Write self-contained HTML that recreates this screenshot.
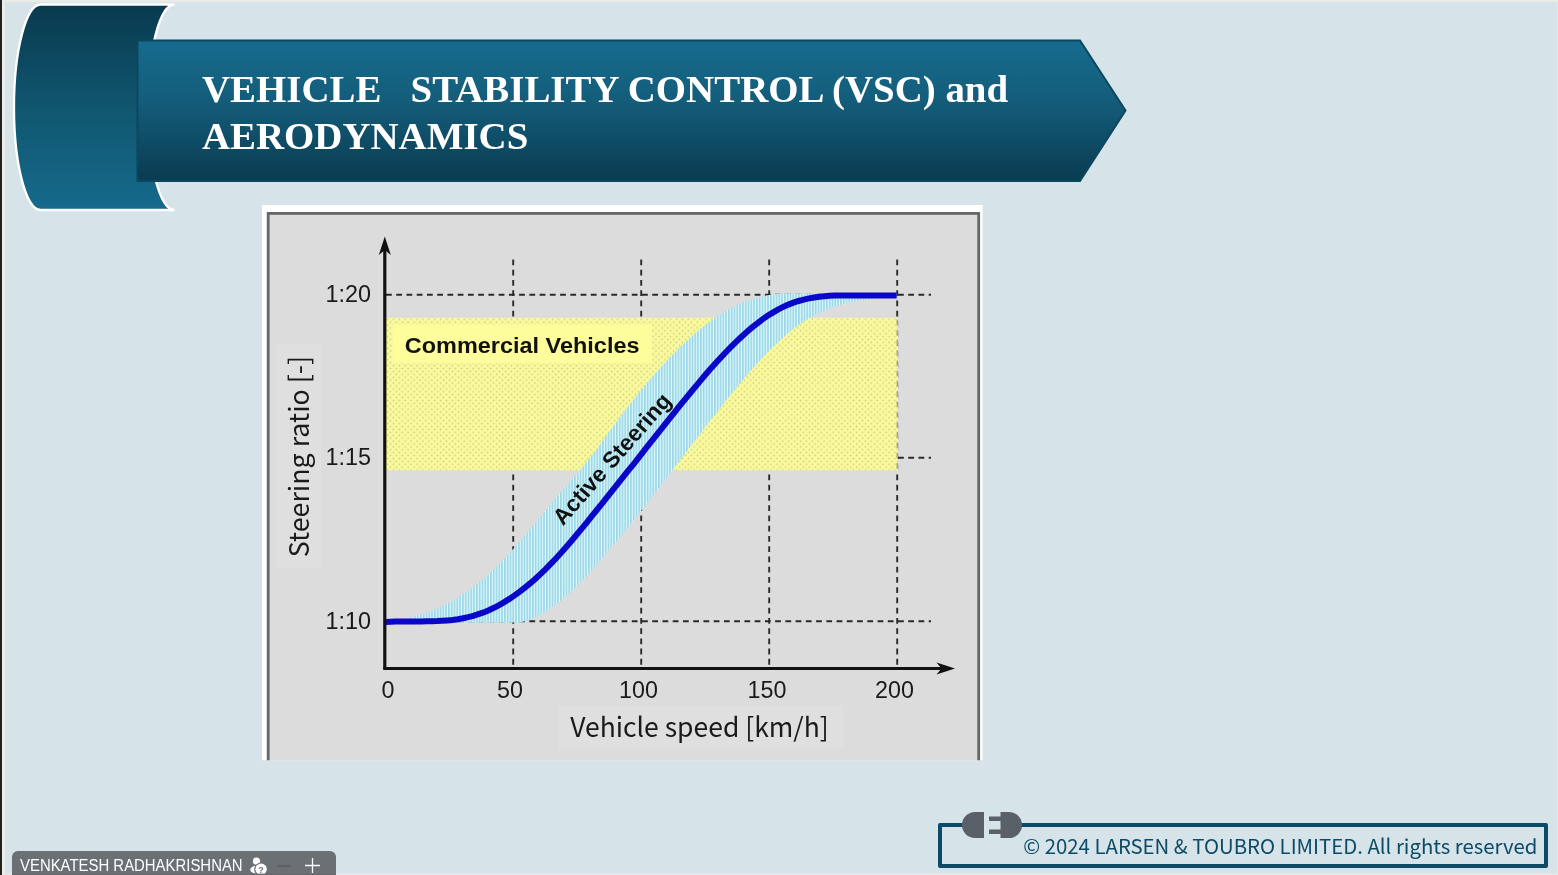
<!DOCTYPE html>
<html><head><meta charset="utf-8"><title>VEHICLE STABILITY CONTROL (VSC) and AERODYNAMICS</title>
<style>
html,body{margin:0;padding:0;}
body{width:1558px;height:875px;overflow:hidden;background:#d6e3e9;position:relative;font-family:"Liberation Sans",sans-serif;}
#edgeL{position:absolute;left:0;top:0;width:2px;height:875px;background:#222;}
#edgeL2{position:absolute;left:2px;top:0;width:3px;height:875px;background:#ecece8;}
#edgeT{position:absolute;left:2px;top:0;width:1556px;height:2px;background:#e9ebe6;}
#edgeB{position:absolute;left:2px;top:873px;width:1556px;height:2px;background:#e6e8e8;}
#edgeR{position:absolute;left:1557px;top:2px;width:1px;height:871px;background:#dfeaee;}
#shapes{position:absolute;left:0;top:0;}
#title{position:absolute;left:202px;top:65.2px;margin:0;color:#fff;font-family:"Liberation Serif",serif;font-weight:bold;font-size:38.9px;line-height:47px;white-space:pre;}
#chart{position:absolute;left:0;top:0;}
#footer{position:absolute;left:938px;top:823px;width:610px;height:44.6px;border:4.2px solid #0d4a66;box-sizing:border-box;border-radius:2px;}
#footer span{position:absolute;right:6.6px;top:3.6px;font-family:"Noto Sans CJK SC","Liberation Sans",sans-serif;font-size:20.35px;line-height:28px;color:#0d4a66;white-space:nowrap;}
#plug{position:absolute;left:960px;top:810px;}
#name{position:absolute;left:12px;top:851px;width:324px;height:24px;background:#6b7074;border-radius:6px 6px 0 0;color:#fff;}
#name span{position:absolute;left:8px;top:5.6px;font-size:16px;line-height:18px;white-space:nowrap;transform:scaleX(0.932);transform-origin:0 0;}
#name svg{position:absolute;left:0;top:0;}
</style></head><body>
<div id="edgeR"></div><div id="edgeT"></div><div id="edgeB"></div><div id="edgeL"></div><div id="edgeL2"></div>
<svg id="shapes" width="1558" height="230" viewBox="0 0 1558 230">
<defs>
<linearGradient id="g1" x1="0" y1="0" x2="0" y2="1"><stop offset="0" stop-color="#093a4f"/><stop offset="0.5" stop-color="#10566f"/><stop offset="1" stop-color="#166a8c"/></linearGradient>
<linearGradient id="g2" x1="0" y1="0" x2="0" y2="1"><stop offset="0" stop-color="#176c8e"/><stop offset="0.45" stop-color="#135c79"/><stop offset="1" stop-color="#0a3b51"/></linearGradient>
</defs>
<path d="M40.7,4.5 L174.5,4.5 A26.7,102.75 0 0 0 174.5,210 L40.7,210 A26.7,102.75 0 0 1 40.7,4.5 Z" fill="url(#g1)" stroke="#fff" stroke-width="2.3"/>
<path d="M137.5,40.5 L1080,40.5 L1125.5,110.5 L1080,181 L137.5,181 Z" fill="url(#g2)" stroke="#0c4760" stroke-width="2"/>
</svg>
<h1 id="title">VEHICLE   STABILITY CONTROL (VSC) and
AERODYNAMICS</h1>

<svg id="chart" width="1558" height="875" viewBox="0 0 1558 875" font-family="'Liberation Sans',sans-serif">
<defs>
<pattern id="hatch" width="2.8" height="8" patternUnits="userSpaceOnUse"><rect width="2.8" height="8" fill="#dffcff"/><rect width="1.7" height="8" fill="#9cd5e5"/></pattern>
<pattern id="dots" x="386" y="317.8" width="5.9" height="5.8" patternUnits="userSpaceOnUse"><rect width="5.9" height="5.8" fill="#fafa9d"/><circle cx="1.5" cy="1.5" r="0.9" fill="#cfcf88"/><circle cx="4.45" cy="4.4" r="0.9" fill="#cfcf88"/></pattern>
<clipPath id="cc"><rect x="262" y="205" width="720.6" height="555.3"/></clipPath>
</defs>
<g clip-path="url(#cc)">
<rect x="262" y="205" width="721" height="556" fill="#fff"/>
<rect x="268.2" y="213.4" width="710.5" height="560" fill="#dcdcdc" stroke="#666" stroke-width="2.8"/>
<!-- label backgrounds -->
<rect x="276.5" y="344" width="44.5" height="224" fill="#dfdfdf"/>
<rect x="558" y="706" width="285" height="43" fill="#dfdfdf"/>
<!-- grid -->
<g stroke="#2a2a2a" stroke-width="1.9" stroke-dasharray="5.8 4.44" fill="none">
<path d="M513.2,259.5V667.5M641.2,259.5V667.5M769.2,259.5V667.5M897.2,259.5V667.5"/>
<path d="M386,294.8H931M386,457.8H931M386,621.2H931"/>
</g>
<!-- yellow -->
<rect x="386" y="317.8" width="512" height="152.4" fill="url(#dots)"/>
<rect x="392.5" y="324.5" width="259.5" height="38.5" fill="#fdfd9c"/>
<path d="M897.2,318V470" stroke="#555" stroke-width="1.4" stroke-dasharray="5.8 4.44" stroke-dashoffset="-1.6" opacity="0.5"/>
<!-- band -->
<path d="M385.5,621.4 L390.7,621.0 L395.8,620.4 L401.0,619.6 L406.2,618.6 L411.3,617.4 L416.5,616.0 L421.6,614.5 L426.8,612.7 L432.0,610.7 L437.1,608.5 L442.3,606.1 L447.5,603.5 L452.6,600.6 L457.8,597.6 L463.0,594.2 L468.1,590.7 L473.3,586.9 L478.4,582.8 L483.6,578.5 L488.8,574.0 L493.9,569.2 L499.1,564.1 L504.3,558.8 L509.4,553.2 L514.6,547.4 L519.8,541.5 L524.9,535.4 L530.1,529.3 L535.2,523.1 L540.4,516.8 L545.6,510.4 L550.7,504.0 L555.9,497.8 L561.1,491.8 L566.2,485.9 L571.4,480.0 L576.6,474.1 L581.7,468.0 L586.9,461.7 L592.0,455.2 L597.2,448.2 L602.4,441.0 L607.5,433.9 L612.7,426.9 L617.9,419.9 L623.0,413.1 L628.2,406.4 L633.4,399.8 L638.5,393.3 L643.7,387.0 L648.8,380.9 L654.0,374.8 L659.2,369.0 L664.3,363.3 L669.5,357.8 L674.7,352.5 L679.8,347.3 L685.0,342.4 L690.2,337.7 L695.3,333.1 L700.5,328.8 L705.6,324.7 L710.8,320.9 L716.0,317.3 L721.1,313.9 L726.3,310.8 L731.5,307.9 L736.6,305.3 L741.8,303.0 L747.0,301.0 L752.1,299.2 L757.3,297.7 L762.4,296.4 L767.6,295.3 L772.8,294.4 L777.9,293.7 L783.1,293.5 L788.3,293.5 L793.4,293.5 L798.6,293.5 L803.8,293.5 L808.9,293.5 L814.1,293.5 L819.2,293.5 L824.4,293.5 L829.6,293.5 L834.7,293.5 L839.9,293.5 L845.1,293.5 L850.2,293.5 L855.4,293.5 L860.6,293.5 L865.7,293.5 L870.9,293.5 L876.0,293.5 L881.2,293.5 L886.4,293.5 L891.5,293.5 L896.7,293.5 L896.7,297.5 L891.5,297.5 L886.4,297.8 L881.2,298.1 L876.0,298.5 L870.9,299.0 L865.7,299.7 L860.6,300.4 L855.4,301.3 L850.2,302.3 L845.1,303.5 L839.9,304.9 L834.7,306.5 L829.6,308.4 L824.4,310.5 L819.2,312.8 L814.1,315.5 L808.9,318.4 L803.8,321.6 L798.6,325.2 L793.4,329.1 L788.3,333.2 L783.1,337.7 L777.9,342.4 L772.8,347.3 L767.6,352.5 L762.4,357.9 L757.3,363.5 L752.1,369.2 L747.0,375.2 L741.8,381.3 L736.6,387.5 L731.5,393.8 L726.3,400.3 L721.1,406.8 L716.0,413.4 L710.8,420.1 L705.6,426.8 L700.5,433.6 L695.3,440.3 L690.2,447.1 L685.0,453.9 L679.8,460.7 L674.7,467.4 L669.5,474.2 L664.3,480.9 L659.2,487.7 L654.0,494.3 L648.8,501.0 L643.7,507.6 L638.5,514.1 L633.4,520.6 L628.2,527.1 L623.0,533.5 L617.9,539.7 L612.7,546.0 L607.5,552.1 L602.4,558.1 L597.2,564.1 L592.0,569.9 L586.9,575.5 L581.7,581.0 L576.6,586.2 L571.4,591.2 L566.2,596.0 L561.1,600.4 L555.9,604.6 L550.7,608.4 L545.6,611.8 L540.4,614.8 L535.2,617.5 L530.1,619.6 L524.9,621.3 L519.8,622.5 L514.6,622.6 L509.4,622.6 L504.3,622.6 L499.1,622.6 L493.9,622.6 L488.8,622.6 L483.6,622.6 L478.4,622.6 L473.3,622.6 L468.1,622.6 L463.0,622.6 L457.8,622.6 L452.6,622.6 L447.5,622.6 L442.3,622.6 L437.1,622.6 L432.0,622.6 L426.8,622.7 L421.6,622.8 L416.5,622.8 L411.3,622.9 L406.2,622.9 L401.0,623.0 L395.8,623.0 L390.7,623.0 L385.5,623.0Z" fill="url(#hatch)"/>
<path d="M385.5,622.1 L390.7,621.8 L395.8,621.6 L401.0,621.5 L406.2,621.4 L411.3,621.4 L416.5,621.4 L421.6,621.4 L426.8,621.3 L432.0,621.2 L437.1,621.1 L442.3,620.8 L447.5,620.4 L452.6,619.9 L457.8,619.2 L463.0,618.3 L468.1,617.2 L473.3,615.9 L478.4,614.2 L483.6,612.4 L488.8,610.2 L493.9,607.8 L499.1,605.1 L504.3,602.1 L509.4,598.9 L514.6,595.4 L519.8,591.6 L524.9,587.6 L530.1,583.4 L535.2,578.9 L540.4,574.1 L545.6,569.1 L550.7,563.9 L555.9,558.5 L561.1,552.8 L566.2,547.0 L571.4,541.0 L576.6,534.8 L581.7,528.6 L586.9,522.3 L592.0,515.9 L597.2,509.5 L602.4,503.1 L607.5,496.6 L612.7,490.2 L617.9,483.7 L623.0,477.2 L628.2,470.7 L633.4,464.3 L638.5,457.8 L643.7,451.2 L648.8,444.7 L654.0,438.2 L659.2,431.7 L664.3,425.2 L669.5,418.7 L674.7,412.2 L679.8,405.7 L685.0,399.3 L690.2,393.0 L695.3,386.8 L700.5,380.6 L705.6,374.5 L710.8,368.6 L716.0,362.8 L721.1,357.2 L726.3,351.7 L731.5,346.4 L736.6,341.4 L741.8,336.5 L747.0,331.8 L752.1,327.4 L757.3,323.3 L762.4,319.4 L767.6,315.8 L772.8,312.6 L777.9,309.6 L783.1,306.9 L788.3,304.6 L793.4,302.7 L798.6,301.0 L803.8,299.6 L808.9,298.4 L814.1,297.5 L819.2,296.7 L824.4,296.2 L829.6,295.8 L834.7,295.6 L839.9,295.6 L845.1,295.6 L850.2,295.6 L855.4,295.6 L860.6,295.6 L865.7,295.6 L870.9,295.6 L876.0,295.6 L881.2,295.6 L886.4,295.6 L891.5,295.6 L896.7,295.6" fill="none" stroke="#0a07c8" stroke-width="6" stroke-linecap="butt"/>
<!-- axes -->
<path d="M384.8,668.5V248" stroke="#111" stroke-width="3.2" fill="none"/>
<path d="M384.8,236.5 L390.8,255 L384.8,250 L378.8,255Z" fill="#111"/>
<path d="M383.2,668.5H943" stroke="#111" stroke-width="3.2" fill="none"/>
<path d="M955,668.5 L936.5,662.5 L941.5,668.5 L936.5,674.5Z" fill="#111"/>
<!-- labels -->
<g font-size="23.4" fill="#1a1a1a" text-anchor="end">
<text x="371" y="301.8">1:20</text><text x="371" y="465">1:15</text><text x="371" y="628.6">1:10</text>
</g>
<g font-size="23.3" fill="#1a1a1a" text-anchor="middle">
<text x="388" y="698">0</text><text x="510" y="698">50</text><text x="638.5" y="698">100</text><text x="767" y="698">150</text><text x="894.5" y="698">200</text>
</g>
<text transform="translate(404.8,352.8) scale(1.062,1)" font-size="22.1" font-weight="bold" fill="#111">Commercial Vehicles</text>
<text transform="translate(563,526.5) rotate(-48.8)" font-size="22.8" font-weight="bold" fill="#111">Active Steering</text>
<text x="699.5" y="737" text-anchor="middle" font-size="26.5" fill="#1a1a1a" font-family="'Noto Sans CJK SC','Liberation Sans',sans-serif">Vehicle speed [km/h]</text>
<text transform="translate(308.6,456.5) rotate(-90)" text-anchor="middle" font-size="26.8" fill="#1a1a1a" font-family="'Noto Sans CJK SC','Liberation Sans',sans-serif">Steering ratio [-]</text>
</g>
</svg>

<div id="footer"><span>© 2024 LARSEN &amp; TOUBRO LIMITED. All rights reserved</span></div>
<svg id="plug" width="66" height="30" viewBox="0 0 66 30">
<rect x="20" y="8" width="24" height="14" fill="#d6e3e9"/>
<path d="M24,2 H15 A13,13 0 0 0 15,28 H24 Z" fill="#5a6069"/>
<path d="M40.5,2 H49 A13,13 0 0 1 49,28 H40.5 Z" fill="#5a6069"/>
<rect x="29" y="6.5" width="12" height="4.5" fill="#5a6069"/><rect x="29" y="19.5" width="12" height="4.5" fill="#5a6069"/>
</svg>

<div id="name"><span>VENKATESH RADHAKRISHNAN</span>
<svg width="324" height="24" viewBox="0 0 324 24">
<circle cx="244.5" cy="10.2" r="3.6" fill="#fff"/>
<ellipse cx="245" cy="18.7" rx="6.8" ry="3.9" fill="#fff"/>
<circle cx="249.1" cy="18.3" r="6.9" fill="#6b7074"/>
<circle cx="249.1" cy="18.3" r="5.7" fill="#fff"/>
<text x="249.1" y="21.6" font-size="9" font-weight="bold" text-anchor="middle" fill="#6b7074" font-family="'Liberation Sans',sans-serif">?</text>
<rect x="265.1" y="14.1" width="13.8" height="1.9" fill="#5b6064"/>
<path d="M293,14.5H308M300.5,7V22" stroke="#fff" stroke-width="1.3" fill="none"/>
<rect x="0" y="22.6" width="324" height="2" fill="#656a6e"/>
</svg></div>
</body></html>
